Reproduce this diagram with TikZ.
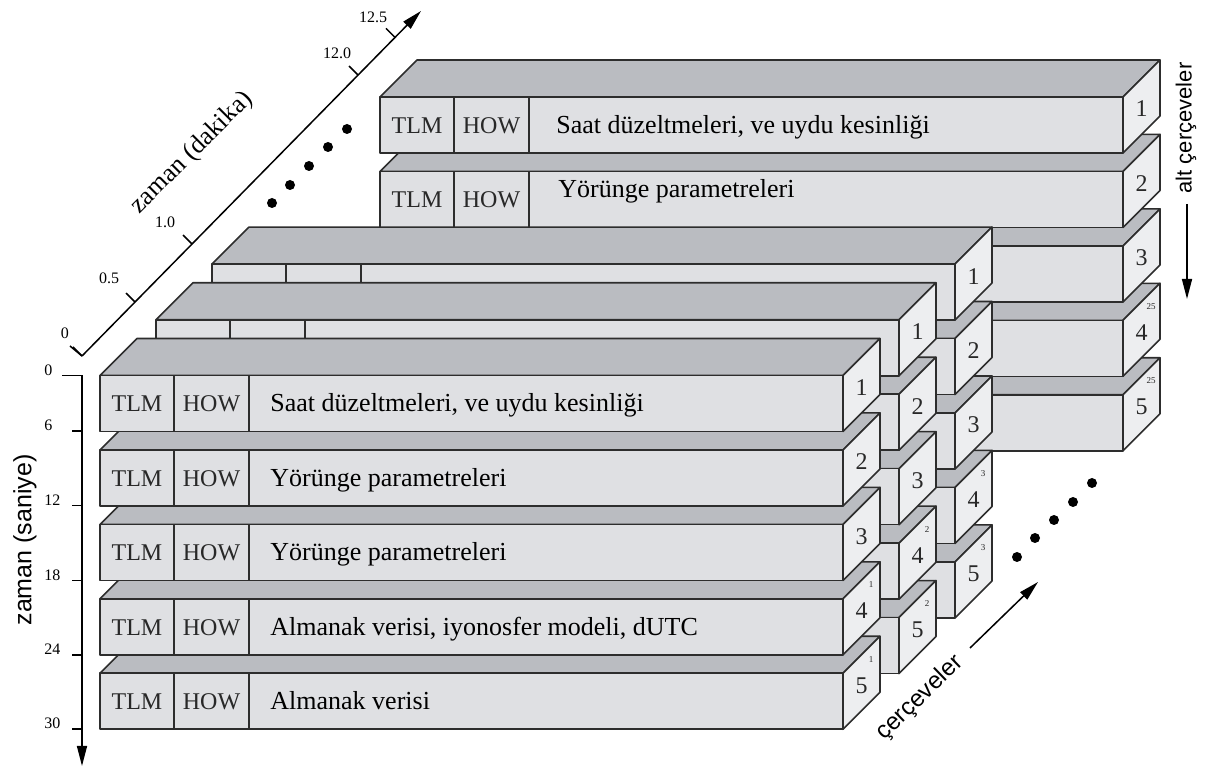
\documentclass[tikz,border=0pt]{standalone}
\usepackage{fontspec}
\setmainfont{Liberation Serif}
\setsansfont{Liberation Sans}
\usepackage{tikz}
\usetikzlibrary{arrows.meta}
\definecolor{slabFront}{RGB}{223,224,227}
\definecolor{slabTop}{RGB}{186,188,193}
\definecolor{slabSide}{RGB}{237,238,240}
\definecolor{slabEdge}{RGB}{45,45,45}
\definecolor{fieldText}{RGB}{40,40,40}

\begin{document}
\begin{tikzpicture}[x=0.5pt, y=-0.5pt, line join=round]
  \tikzset{slab/.style={draw=slabEdge, line width=0.8pt},
    top face/.style={slab, fill=slabTop},
    side face/.style={slab, fill=slabSide},
    front face/.style={slab, fill=slabFront},
    field/.style={anchor=base, inner sep=0pt, text=fieldText, font=\fontsize{12}{14}\selectfont},
    body/.style={anchor=base west, inner sep=0pt, font=\fontsize{13}{15}\selectfont},
    num/.style={inner sep=0pt, text=fieldText, font=\fontsize{12}{14}\selectfont},
    pg/.style={inner sep=0pt, text=fieldText, font=\fontsize{4.5}{5}\selectfont},
    tick/.style={line width=0.75pt},
    ticklabel/.style={inner sep=0pt, font=\fontsize{8}{9}\selectfont},
    axis/.style={line width=0.75pt, -{Triangle[length=10pt, width=5pt]}},
    axis title/.style={inner sep=0pt, font=\sffamily\fontsize{12.5}{14}\selectfont}}
  \useasboundingbox (0,0) rectangle (1211,769);

  % subframes, back to front; inside each one, bottom to top
  \foreach \fr/\X/\Y in {25/380/97, 3/212/264.1, 2/156/319.8, 1/100/375.5}{
    \foreach \row in {5,4,...,1}{
      \pgfmathsetmacro\yy{\Y+(\row-1)*74.45}
      \filldraw[top face] (\X,\yy) -- ++(743,0) -- ++(37,-37) -- ++(-743,0) -- cycle;
      \filldraw[side face] (\X+743,\yy) -- ++(37,-37) -- ++(0,56) -- ++(-37,37) -- cycle;
      \filldraw[front face] (\X,\yy) rectangle ++(743,56);
      \draw[slab] (\X+74,\yy) -- ++(0,56) (\X+149,\yy) -- ++(0,56);
      \node[num] (f\fr-r\row) at (\X+761.5,\yy+12) {\row};
      \ifnum\row>3 \node[pg] (f\fr-p\row) at (\X+771,\yy-14) {\fr}; \fi
    }
  }

  % words of frame 1
  \foreach \row/\txt in {1/{Saat düzeltmeleri, ve uydu kesinliği}, 2/{Yörünge parametreleri},
      3/{Yörünge parametreleri}, 4/{Almanak verisi, iyonosfer modeli, dUTC}, 5/{Almanak verisi}}{
    \pgfmathsetmacro\yy{375.5+(\row-1)*74.45+36.5}
    \node[field] (a\row-tlm) at (137,\yy) {TLM};
    \node[field] (a\row-how) at (211.5,\yy) {HOW};
    \node[body] (a\row-txt) at (270,\yy) {\txt};
  }
  % words of frame 25
  \node[field] (z1-tlm) at (417,133.5) {TLM};
  \node[field] (z1-how) at (491.5,133.5) {HOW};
  \node[body] (z1-txt) at (556,133.5) {Saat düzeltmeleri, ve uydu kesinliği};
  \node[field] (z2-tlm) at (417,208) {TLM};
  \node[field] (z2-how) at (491.5,208) {HOW};
  \node[body] (z2-txt) at (558,198) {Yörünge parametreleri};

  % seconds axis
  \coordinate (s-top) at (82,375.5);
  \coordinate (s-end) at (82,766);
  \draw[axis] (s-top) -- (s-end);
  \foreach \tl/\yy in {0/375.5, 6/431, 12/505.7, 18/580.7, 24/655, 30/729}{
    \coordinate (s\tl) at (82,\yy);
    \draw[tick] (s\tl) -- ++(-10,0);
    \node[ticklabel, anchor=base west] (s\tl-lab) at (44,\yy) {\tl};
  }
  \draw[tick] (s0) -- ++(-20,0);
  \node[axis title, rotate=90] (s-title) at (25,540) {zaman (saniye)};

  % minutes axis
  \coordinate (m-start) at (82,356);
  \coordinate (m-end) at (421,11);
  \draw[axis] (m-start) -- (m-end);
  \foreach \i/\tl/\d/\lx/\ly in {0/0/0/65/333, 1/0.5/53/109/278, 2/1.0/110/165/222,
      3/12.0/276/337/53, 4/12.5/313/373/17}{
    \coordinate (m\i) at (82+\d,356-1.018*\d);
    \draw[tick] (m\i) -- ++(-9,-9);
    \node[ticklabel] (m\i-lab) at (\lx,\ly) {\tl};
  }
  \draw[tick] (m0) -- ++(-12,-10);
  \node[inner sep=0pt, rotate=45, font=\fontsize{13}{15}\selectfont] (m-title) at (192,153) {zaman (dakika)};

  % frames in between
  \foreach \x/\yy in {272/203, 290/185, 309/166, 328/147, 347/129,
      1017/557, 1035/538, 1054/520, 1073/502, 1092/483}
    \fill (\x,\yy) circle (5);

  % frames and subframes arrows
  \node[axis title, rotate=44, font=\sffamily\fontsize{12}{14}\selectfont] (c-title) at (920,698) {çerçeveler};
  \coordinate (c-start) at (970,648);
  \coordinate (c-end) at (1038,582);
  \draw[axis] (c-start) -- (c-end);
  \node[axis title, rotate=90, font=\sffamily\fontsize{11}{13}\selectfont] (a-title) at (1186,128) {alt çerçeveler};
  \coordinate (a-start) at (1187,204);
  \coordinate (a-end) at (1187,299);
  \draw[axis] (a-start) -- (a-end);
\end{tikzpicture}
\end{document}
